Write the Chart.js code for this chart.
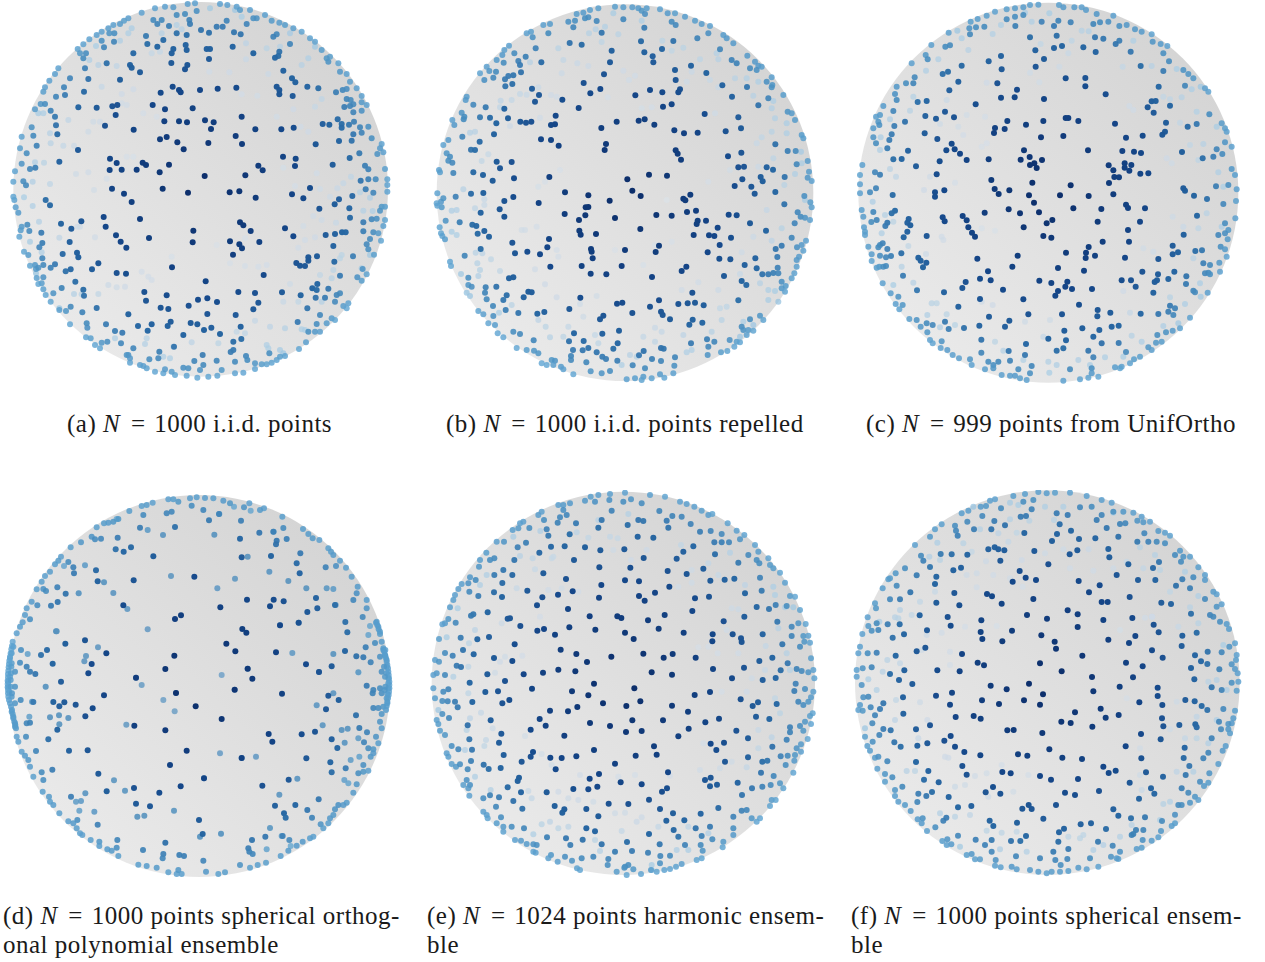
<!DOCTYPE html>
<html>
<head>
<meta charset="utf-8">
<title>Point sets on the sphere</title>
<script src="https://cdn.jsdelivr.net/npm/chart.js@4"></script>
<style>
  html, body { margin: 0; background: #fff; }
  #page { position: relative; width: 1265px; height: 962px; overflow: hidden; }
  canvas { position: absolute; }
  .cap { position: absolute; font: 25px "Liberation Serif", serif; letter-spacing: 0.5px; color: #1a1a1a; white-space: nowrap; line-height: 29px; }
  .cap i { margin-right: 2px; }
  .cap b { font-weight: normal; margin: 0 2px; }
</style>
</head>
<body>
<div id="page">
  <canvas id="a" width="400" height="390" style="left:0;top:0"></canvas>
  <canvas id="b" width="400" height="390" style="left:425px;top:0"></canvas>
  <canvas id="c" width="400" height="390" style="left:850px;top:0"></canvas>
  <canvas id="d" width="400" height="390" style="left:0;top:490px"></canvas>
  <canvas id="e" width="400" height="390" style="left:425px;top:490px"></canvas>
  <canvas id="f" width="400" height="390" style="left:850px;top:490px"></canvas>
  <div class="cap" style="left:67px;top:409px">(a) <i>N</i> <b>=</b> 1000 i.i.d. points</div>
  <div class="cap" style="left:446px;top:409px">(b) <i>N</i> <b>=</b> 1000 i.i.d. points repelled</div>
  <div class="cap" style="left:866px;top:409px">(c) <i>N</i> <b>=</b> 999 points from UnifOrtho</div>
  <div class="cap" style="left:3px;top:901px">(d) <i>N</i> <b>=</b> 1000 points spherical orthog-</div>
  <div class="cap" style="left:3px;top:930px">onal polynomial ensemble</div>
  <div class="cap" style="left:427px;top:901px">(e) <i>N</i> <b>=</b> 1024 points harmonic ensem-</div>
  <div class="cap" style="left:427px;top:930px">ble</div>
  <div class="cap" style="left:851px;top:901px">(f) <i>N</i> <b>=</b> 1000 points spherical ensem-</div>
  <div class="cap" style="left:851px;top:930px">ble</div>
</div>
<script>
// points, x/y in units of 1/3 px inside each 400x390 panel
const aDisc = [602, 568, 562];
const bDisc = [600, 578, 565];
const cDisc = [595, 578, 570];
const dDisc = [597, 588, 573];
const eDisc = [595, 580, 575];
const fDisc = [592, 578, 577];

const aFront = [[465,25],[495,20],[520,22],[563,12],[585,10],[660,12],[682,15],[710,20],[720,30],[750,30],[795,45],[770,55],[590,33],[555,42],[530,45],[425,38],[385,55],[372,62],[360,72],[340,75],[325,85],[305,95],[290,105],[460,60],[485,60],[472,72],[507,78],[568,60],[570,72],[650,80],[680,62],[668,80],[740,72],[760,55],[815,62],[838,68],[855,75],[880,85],[905,95],[930,115],[945,125],
[603,90],[627,98],[702,97],[722,103],[830,103],[820,110],[530,100],[560,105],[490,120],[438,108],[343,100],[328,100],[305,122],[342,125],[268,118],[250,133],[233,147],[240,160],[250,175],[258,160],[312,142],[442,132],[472,140],[520,147],[515,160],[557,135],[560,150],[620,147],[630,147],[698,140],[870,132],[838,155],[835,168],[825,173],[760,160],[627,177],[400,160],[514,189],[562,195],[555,208],[320,190],[390,195],[395,203],[255,205],[420,217],[850,212],[985,185],[965,150],[990,170],[1015,190],[1020,215],[1040,222],[1050,245],[1070,265],[1085,288],[1100,315],[980,175],
[175,205],[165,222],[210,235],[148,242],[265,237],[360,239],[135,262],[192,262],[252,275],[195,285],[168,290],[130,275],[876,235],[886,247],[830,260],[838,270],[838,283],[878,288],[922,260],[955,265],[1008,277],[1028,270],[1040,267],[518,260],[537,270],[542,277],[482,278],[600,270],[653,266],[709,263],
[122,312],[105,328],[135,312],[235,322],[290,323],[337,319],[352,315],[458,315],[495,328],[578,325],[152,332],[165,350],[347,345],[725,350],[1040,297],[1052,300],[1060,313],[1033,321],[1050,318],[1060,337],[1085,307],[1085,332],[1013,358],[968,372],[988,374],[1025,372],[1047,374],[1025,383],[1062,365],[1080,382],[1105,380],[1085,398],[493,364],[537,364],[561,367],[615,361],[641,367],[633,387],[766,388],[844,388],[881,383],[315,377],[401,389],[168,376],[95,382],[172,403],[100,407],[65,410],[1060,403],[1115,415],[1017,423],[1055,422],[1145,432],[500,411],[480,418],[532,427],[551,448],[625,429],[707,408],[726,432],[947,433],[110,437],[60,445],[234,450],[80,460],[1132,462],[1150,457],[1140,445],[1078,460],[1049,474],[849,470],[887,476],[330,476],[350,489],[329,510],[365,509],[410,509],[428,488],[438,495],[507,494],[479,517],[178,485],[65,491],[90,507],[106,503],[45,514],[885,498],[998,494],[1095,497],[1105,508],[775,497],[788,511],[736,526],[614,528],[1155,507],[70,544],[78,556],[40,545],[1082,542],[1105,538],[1127,538],[1162,538],[1162,555],[1162,575],[930,564],[1097,568],[1120,578],[336,566],[372,581],[395,606],[488,566],[564,578],[689,577],[718,574],[767,593],[876,583],[910,595],[1057,588],[1017,598],[1004,613],[958,626],[1048,625],[1145,620],[1155,620],[1140,632],[43,600],[40,590],[137,600],[150,616],[47,622],[55,638],[311,651],[420,657],[1050,653],[1115,658],[1130,656],[1090,667],[1155,660],[183,671],[244,664],[82,674],[214,686],[317,680],[720,667],[730,676],[752,693],[855,685],[880,709],[65,680],[62,691],[88,693],[124,698],[58,710],[348,706],[447,714],[580,692],[578,727],[1026,697],[1037,697],[1090,694],[1120,697],[1135,700],[1150,678],[977,705],[1005,702],[690,724],[718,733],[726,745],[778,726],[1110,717],[1143,722],[1100,733],[1105,748],[209,726],[127,729],[118,742],[362,725],[379,743],[1000,738],[231,758],[235,772],[188,762],[72,755],[85,765],[127,775],[699,764],[925,772],[925,782],[951,769],[889,789],[900,797],[915,798],[1059,769],[1122,764],[1003,785],[295,790],[165,793],[152,803],[105,795],[90,797],[130,795],[108,807],[115,803],[212,808],[197,814],[276,808],[516,802],[350,819],[378,821],[791,825],[1020,827],[1100,823],[1088,807],[1072,832],[1085,842],[130,832],[110,834],[125,850],[115,852],[130,868],[137,885],[226,845],[617,844],[952,852],[937,865],[985,866],[185,864],[250,869],[252,887],[433,876],[500,886],[715,876],[765,879],[846,877],[950,870],[902,886],[947,893],[975,893],[1010,885],[1020,880],[160,880],[152,905],[438,902],[594,899],[622,895],[651,906],[775,908],[1005,905],[1045,910],[1030,918],[1040,925],[212,920],[290,924],[482,923],[505,927],[566,917],[760,928],[922,925],[178,930],[198,933],[247,937],[385,943],[622,942],[707,945],[960,945],[995,955],[1005,960],[980,970],[950,972],[512,965],[572,969],[592,973],[260,970],[318,973],[414,978],[455,973],[503,978],[722,980],[893,966],[210,973],[262,983],[945,995],[960,995],[925,995],[612,990],[634,983],[345,993],[367,998],[443,992],[550,1005],[660,1002],[724,1017],[700,1025],[918,1027],[272,1015],[258,1012],[305,1028],[322,1025],[363,1030],[285,1035],[300,1045],[522,1040],[400,1045],[478,1055],[700,1050],[692,1056],[808,1060],[897,1047],[855,1068],[840,1070],[830,1080],[815,1088],[800,1093],[785,1093],[765,1090],[738,1068],[608,1065],[385,1065],[380,1065],[390,1075],[448,1078],[475,1075],[583,1083],[650,1082],[705,1085],[742,1080],[765,1107],[730,1118],[705,1120],[652,1127],[625,1130],[592,1133],[560,1127],[525,1125],[490,1120],[465,1115],[430,1098],[440,1105],[550,1103],[565,1105],[515,1115],[600,1110],[610,1095],[665,1110],[390,1088],[420,1095],[495,1108]];
const aBack = [[630,25],[705,30],[725,50],[530,75],[545,88],[485,100],[395,85],[385,100],[360,122],[288,138],[480,155],[455,160],[738,130],[738,178],[800,145],[840,140],[870,100],[925,175],[945,140],[268,180],[295,195],[350,198],[628,215],[688,217],[805,222],[905,195],[965,297],[945,320],[880,328],[830,350],[772,287],[725,283],[400,268],[365,282],[305,260],[280,365],[300,365],[205,360],[150,400],[130,340],[115,340],[265,395],[430,340],[365,310],[380,315],[190,437],[222,437],[152,430],[132,488],[105,487],[228,522],[265,517],[150,552],[98,545],[72,592],[98,618],[282,570],[320,536],[400,470],[380,470],[470,350],[925,395],[902,380],[850,503],[950,520],[1012,565],[1053,530],[1030,550],[1110,593],[1080,577],[990,590],[960,567],[885,558],[1090,632],[1118,633],[940,648],[965,660],[1008,668],[910,678],[915,720],[945,712],[895,743],[1025,765],[1020,775],[1000,810],[995,835],[960,825],[735,798],[775,800],[800,795],[1110,765],[1085,805],[870,852],[850,905],[895,905],[965,905],[905,988],[915,990],[840,1050],[850,1060],[800,1035],[805,1045],[855,985],[810,980],[765,962],[735,1000],[710,995],[655,1030],[575,1027],[520,1040],[435,1032],[345,1015],[490,1070],[510,1075],[440,1015],[375,860],[325,855],[350,862],[295,882],[222,882],[245,883],[178,925],[178,713],[285,712],[240,680],[232,680],[117,665],[125,757],[90,725],[108,820],[425,815],[445,830],[455,840],[515,770],[735,715],[690,790],[650,735]];

const bFront = [[570,20],[595,22],[622,22],[640,25],[665,25],[520,25],[495,30],[475,38],[455,42],[705,28],[728,40],[750,40],[780,50],[810,62],[830,72],[855,78],[650,32],[660,42],[595,58],[490,52],[480,55],[450,62],[430,65],[515,63],[375,72],[355,75],[318,95],[305,100],[323,112],[370,100],[445,82],[530,98],[658,83],[740,65],[752,75],[850,100],[895,105],[905,115],[885,148],[925,130],[817,115],[648,124],[745,123],[434,129],[470,134],[332,145],[252,137],[238,150],[268,160],[232,165],[302,170],[215,180],[185,200],[280,183],[285,195],[236,188],[349,187],[560,152],[658,157],[683,169],[711,147],[685,187],[555,187],[798,197],[750,210],[844,219],[920,180],[935,190],[967,167],[990,185],[1000,197],[975,205],[995,210],[1010,200],[1040,232],[1025,245],[1042,255],[1075,285],[1030,295],[1040,262],[193,213],[213,215],[165,220],[178,240],[205,233],[240,238],[250,228],[265,226],[288,217],[262,252],[241,259],[537,223],[752,240],[892,256],[966,261],[476,249],[321,266],[496,280],[526,267],[675,270],[712,277],[765,268],[760,277],[631,286],[342,285],[330,305],[412,299],[921,290],[1000,316],[125,290],[122,300],[145,314],[182,322],[238,326],[461,324],[714,320],[740,313],[110,338],[118,350],[116,358],[88,375],[82,360],[165,352],[195,353],[214,370],[249,355],[286,365],[303,368],[319,365],[392,347],[378,375],[390,373],[575,365],[641,362],[659,358],[688,374],[839,342],[940,352],[1088,335],[1100,340],[1110,360],[529,384],[748,391],[777,400],[818,398],[902,394],[948,385],[207,403],[112,410],[348,418],[378,420],[401,437],[164,425],[70,420],[55,435],[138,449],[150,450],[543,432],[539,450],[752,451],[758,461],[768,479],[1051,433],[909,469],[949,458],[1130,405],[1135,415],[1088,453],[1112,453],[65,460],[75,470],[70,482],[82,488],[215,485],[260,486],[1148,483],[1115,493],[225,505],[940,502],[957,500],[1025,502],[1044,509],[42,510],[45,517],[85,519],[145,517],[174,525],[672,524],[726,527],[373,531],[267,535],[203,542],[607,538],[1007,531],[1013,544],[952,538],[979,560],[929,558],[1079,531],[1152,515],[1148,533],[1160,543],[138,581],[175,579],[37,580],[48,605],[55,595],[92,590],[420,577],[622,572],[647,588],[490,586],[796,584],[775,596],[781,601],[1051,576],[989,581],[238,603],[265,591],[341,609],[554,602],[1138,588],[35,610],[50,622],[37,617],[1156,607],[1160,622],[1078,613],[167,638],[224,628],[238,650],[419,642],[482,622],[490,621],[481,646],[694,645],[740,647],[786,636],[813,632],[911,644],[935,646],[1118,637],[1127,650],[1140,653],[1155,660],[1109,670],[462,660],[570,654],[818,662],[815,672],[843,662],[975,670],[62,662],[104,667],[142,674],[154,678],[44,682],[878,683],[1023,692],[463,692],[467,704],[513,702],[646,687],[178,693],[158,701],[48,700],[52,708],[60,718],[192,710],[806,705],[852,706],[868,708],[918,713],[1100,713],[1143,722],[372,717],[262,728],[884,735],[1070,737],[1116,742],[1130,735],[1135,752],[367,742],[167,747],[307,755],[270,760],[345,763],[498,747],[500,755],[600,750],[702,737],[692,756],[848,757],[1052,747],[1057,771],[1122,770],[119,767],[503,775],[883,776],[916,778],[991,775],[1115,780],[75,785],[78,798],[376,800],[470,798],[590,798],[784,800],[770,813],[959,795],[995,805],[1058,803],[1115,800],[497,821],[544,823],[681,831],[897,828],[1012,823],[1030,823],[1045,819],[1060,820],[1108,820],[1100,835],[252,835],[265,832],[130,833],[130,855],[140,860],[182,862],[214,860],[950,843],[964,855],[1070,845],[1082,858],[1070,865],[1080,875],[180,878],[310,875],[320,877],[802,878],[245,886],[296,892],[466,893],[235,900],[185,898],[702,901],[940,901],[576,911],[592,908],[760,912],[788,910],[810,908],[836,916],[204,918],[675,920],[433,927],[242,930],[622,939],[708,935],[713,945],[337,941],[358,936],[280,939],[160,933],[175,943],[205,948],[525,958],[535,947],[735,958],[803,959],[793,974],[832,968],[1005,947],[975,958],[190,970],[210,975],[218,1000],[235,1012],[950,980],[955,990],[970,990],[965,1005],[985,992],[1015,960],[265,995],[285,1002],[447,1000],[532,1001],[582,992],[432,1024],[326,1021],[476,1023],[578,1030],[798,1030],[846,1018],[868,1025],[914,1020],[935,1025],[945,1027],[275,1044],[305,1050],[327,1052],[340,1060],[444,1050],[473,1051],[490,1044],[565,1046],[515,1057],[708,1044],[716,1046],[850,1040],[888,1057],[907,1053],[928,1040],[532,1070],[543,1077],[577,1082],[438,1068],[438,1080],[380,1080],[390,1082],[350,1090],[365,1095],[385,1095],[408,1100],[415,1108],[484,1087],[642,1066],[656,1053],[681,1077],[708,1083],[750,1072],[848,1065],[623,1096],[660,1105],[748,1097],[745,1120],[718,1133],[705,1123],[680,1135],[655,1130],[650,1140],[630,1135],[605,1138],[555,1113],[497,1114],[530,1120],[445,1123]];
const bBack = [[565,40],[650,62],[540,80],[512,88],[492,100],[580,103],[712,122],[530,126],[740,152],[775,143],[825,178],[875,160],[880,178],[400,145],[415,180],[457,190],[490,198],[315,187],[410,220],[595,212],[630,227],[612,240],[800,215],[855,240],[880,262],[785,245],[930,235],[965,235],[1000,245],[985,287],[1045,303],[1040,325],[1050,355],[1085,370],[1085,400],[1040,395],[1010,412],[995,430],[285,282],[305,284],[378,285],[395,290],[340,262],[548,292],[260,300],[227,302],[225,322],[650,325],[680,322],[870,340],[345,353],[255,378],[150,395],[135,398],[152,758],[172,760],[198,778],[157,790],[108,822],[160,828],[225,813],[330,808],[395,750],[400,770],[570,750],[690,735],[740,725],[655,795],[725,600],[850,545],[915,510],[1000,500],[1045,475],[1128,455],[1130,490],[1110,522],[1078,555],[1140,600],[1025,630],[1070,685],[1040,722],[985,710],[950,757],[945,822],[1005,850],[1030,870],[1050,873],[1060,905],[1030,900],[880,870],[820,847],[770,870],[885,925],[905,920],[890,960],[955,965],[985,975],[945,1010],[860,995],[775,1005],[710,995],[690,983],[690,1025],[785,1057],[800,1050],[655,1010],[615,1065],[635,1070],[590,1095],[520,1030],[510,1005],[415,1010],[375,1012],[340,960],[362,980],[430,980],[475,950],[395,892],[515,888],[465,912],[360,853],[260,915],[222,938],[165,810],[125,878],[135,888],[95,705],[80,695],[290,690],[300,690],[335,680],[340,560],[360,545],[405,510],[190,463],[170,483],[115,568],[178,598],[150,625],[178,615],[80,632],[95,630]];

const cFront = [[565,14],[540,15],[520,22],[495,25],[470,28],[435,35],[410,47],[383,57],[362,65],[627,15],[640,22],[673,22],[695,22],[708,30],[740,42],[790,47],[495,50],[470,58],[520,45],[575,65],[625,62],[662,67],[612,78],[730,72],[750,67],[775,65],[808,78],[830,75],[855,88],[875,95],[905,103],[378,82],[403,80],[358,85],[496,78],[360,103],[296,98],[620,107],[540,112],[735,112],[760,116],[808,122],[797,132],[908,125],[932,132],[952,138],[286,140],[300,136],[244,135],[612,144],[636,138],[556,151],[700,142],[737,156],[842,155],[940,160],[227,165],[233,178],[453,168],[582,177],[416,184],[185,190],[957,184],[335,197],[455,208],[557,200],[872,198],[1000,210],[194,232],[294,215],[278,222],[325,245],[442,250],[647,235],[706,234],[940,213],[1015,222],[1030,235],[168,250],[190,250],[140,260],[706,259],[1005,257],[926,260],[298,271],[501,269],[135,282],[140,300],[767,283],[1065,265],[1075,275],[453,293],[494,292],[582,297],[230,303],[203,306],[377,313],[905,304],[917,303],[893,322],[911,338],[960,317],[100,318],[285,335],[130,333],[226,348],[258,356],[312,352],[90,345],[78,350],[85,365],[88,375],[133,378],[165,365],[647,354],[655,354],[472,363],[580,363],[685,363],[1078,343],[1115,370],[1125,385],[528,374],[795,371],[948,368],[1013,380],[1040,372],[1130,395],[435,384],[432,399],[464,387],[224,400],[70,385],[125,403],[118,420],[262,417],[573,412],[640,408],[828,413],[878,407],[945,395],[937,404],[70,412],[78,430],[112,445],[305,431],[314,448],[289,451],[330,461],[522,451],[714,451],[817,453],[852,455],[873,459],[996,456],[1125,427],[1145,440],[1100,448],[174,452],[350,480],[416,478],[512,479],[539,471],[576,480],[155,477],[130,478],[1058,475],[1090,470],[1117,462],[269,484],[553,490],[540,495],[776,496],[824,490],[844,495],[824,503],[560,504],[198,499],[37,495],[790,511],[838,512],[871,521],[895,520],[1145,507],[1155,525],[260,523],[75,517],[90,524],[793,531],[807,532],[424,540],[777,549],[547,548],[662,556],[30,525],[30,553],[1000,565],[1005,572],[1098,559],[1135,555],[434,567],[478,571],[283,571],[446,582],[60,577],[78,565],[128,585],[255,577],[255,590],[537,586],[630,586],[716,588],[790,583],[1032,587],[1160,568],[1071,597],[30,580],[1158,603],[552,608],[828,614],[834,624],[476,628],[670,625],[754,627],[885,625],[1120,612],[35,630],[70,636],[135,632],[125,640],[40,650],[404,638],[510,640],[567,637],[278,652],[338,648],[1041,647],[176,657],[284,664],[350,661],[607,660],[743,665],[870,665],[590,670],[64,666],[80,660],[172,668],[112,668],[106,678],[181,676],[355,682],[521,682],[1156,655],[1125,670],[1135,690],[834,690],[42,682],[45,695],[172,695],[161,712],[366,698],[375,710],[230,708],[580,708],[604,713],[1001,704],[1105,705],[1125,700],[1133,718],[45,705],[758,725],[837,725],[90,735],[85,742],[98,730],[55,740],[716,741],[968,737],[1112,740],[1125,748],[648,758],[708,758],[984,757],[1036,753],[1056,751],[112,747],[154,760],[65,763],[90,767],[123,768],[108,772],[968,763],[1130,770],[503,767],[735,767],[707,774],[825,773],[382,776],[205,773],[212,782],[229,788],[925,777],[65,783],[88,800],[100,800],[108,798],[80,803],[1060,790],[1080,795],[1108,788],[487,800],[624,804],[702,812],[219,802],[414,814],[877,815],[973,815],[1075,818],[1065,820],[1080,823],[1110,815],[159,827],[924,823],[1009,829],[390,836],[422,841],[568,842],[604,849],[652,845],[646,860],[815,841],[843,841],[921,841],[914,846],[955,837],[347,846],[98,850],[1008,852],[337,864],[459,869],[666,867],[726,867],[857,860],[624,873],[616,887],[201,871],[282,877],[910,878],[1030,872],[1035,877],[1073,878],[122,880],[390,897],[520,898],[145,890],[137,912],[158,915],[148,928],[325,920],[687,914],[743,930],[742,949],[781,938],[535,943],[636,943],[872,941],[925,942],[960,917],[975,925],[955,935],[970,945],[1020,953],[178,957],[200,960],[417,950],[212,980],[230,970],[285,965],[248,975],[478,962],[296,987],[342,984],[388,977],[465,980],[785,980],[806,977],[697,985],[748,990],[643,992],[922,1005],[948,997],[968,992],[990,985],[232,997],[240,1020],[394,1019],[595,1016],[648,1021],[730,1010],[275,1024],[248,1030],[528,1032],[755,1030],[806,1029],[918,1028],[935,1025],[272,1044],[292,1050],[308,1065],[327,1075],[394,1058],[476,1053],[525,1065],[620,1052],[640,1045],[715,1052],[828,1056],[895,1042],[905,1050],[360,1078],[365,1095],[415,1085],[430,1095],[445,1085],[480,1082],[730,1072],[852,1078],[870,1070],[840,1090],[815,1100],[795,1102],[405,1108],[430,1105],[505,1108],[545,1098],[660,1108],[725,1105],[725,1120],[455,1125],[480,1127],[495,1127],[510,1135],[530,1140],[540,1120],[640,1142],[690,1138],[715,1133],[745,1130],[810,1105]];
const cBack = [[598,40],[525,38],[545,65],[453,75],[428,102],[335,115],[355,150],[322,92],[572,132],[655,160],[665,122],[695,92],[716,94],[850,122],[818,200],[905,198],[980,207],[1025,268],[1052,260],[995,292],[960,298],[1040,335],[1100,380],[1060,432],[1020,435],[990,368],[950,475],[965,490],[1045,480],[1105,517],[1120,560],[850,330],[838,318],[940,290],[628,200],[540,218],[410,248],[568,247],[265,178],[228,212],[190,290],[290,300],[120,358],[180,332],[350,345],[270,372],[325,380],[405,350],[410,430],[395,440],[340,405],[92,412],[90,450],[120,507],[138,530],[240,530],[315,548],[222,570],[68,605],[105,645],[130,665],[95,700],[275,710],[280,720],[395,685],[435,692],[175,738],[228,762],[155,800],[130,855],[190,848],[245,910],[260,910],[290,943],[232,945],[315,975],[270,982],[395,905],[428,915],[525,965],[600,960],[580,1010],[435,1025],[460,1052],[520,1080],[595,1085],[620,1095],[598,1118],[685,1080],[720,1095],[765,1072],[820,1070],[875,1025],[845,1007],[940,978],[985,970],[960,892],[1005,912],[1052,890],[1050,850],[1030,775],[1000,680],[968,650],[1070,640],[1045,685],[1115,680],[880,745],[910,755],[820,873],[840,938]];

const dFront = [[505,28],[520,28],[535,35],[570,25],[590,22],[615,24],[640,25],[670,32],[690,40],[425,48],[440,45],[458,38],[575,47],[610,60],[732,52],[748,40],[792,55],[780,60],[847,80],[430,75],[500,70],[515,65],[388,63],[657,72],[627,91],[723,92],[355,87],[340,95],[325,98],[312,100],[290,112],[420,113],[525,111],[850,114],[909,117],[778,128],[820,125],[275,140],[285,148],[303,146],[353,143],[720,146],[860,147],[925,132],[938,145],[958,150],[830,152],[828,163],[243,157],[371,185],[393,172],[347,178],[985,175],[993,185],[1000,195],[212,172],[460,199],[813,198],[725,202],[901,190],[183,200],[165,223],[175,212],[205,216],[220,232],[1020,212],[1008,228],[977,232],[890,220],[288,241],[150,245],[135,258],[222,250],[899,250],[1038,233],[1055,260],[125,275],[401,271],[293,274],[583,260],[110,298],[130,297],[138,303],[172,292],[1073,290],[1070,310],[1100,330],[1060,330],[197,311],[95,335],[112,346],[153,347],[173,336],[741,329],[821,329],[851,334],[948,324],[810,349],[952,355],[922,366],[370,346],[661,352],[80,355],[75,375],[1005,345],[1100,355],[1088,381],[543,376],[90,388],[68,397],[60,410],[1130,395],[1135,410],[1140,425],[1036,396],[896,398],[840,406],[525,387],[727,417],[739,428],[1042,427],[50,430],[40,470],[35,490],[196,461],[255,451],[679,461],[1097,472],[1125,459],[1145,455],[141,480],[63,480],[706,484],[828,487],[1035,483],[1150,480],[1155,495],[123,495],[319,490],[523,497],[1069,499],[1090,502],[1112,517],[1140,500],[30,505],[35,520],[60,518],[158,521],[275,522],[918,523],[995,529],[1160,510],[1160,530],[80,530],[496,537],[743,536],[90,545],[106,552],[265,550],[45,545],[30,560],[957,546],[1145,545],[1160,550],[757,566],[1165,565],[1165,580],[183,575],[408,563],[1100,587],[25,575],[25,590],[28,605],[45,590],[1140,595],[1120,600],[1165,595],[312,616],[846,611],[704,599],[528,609],[985,617],[1118,610],[1145,610],[1162,612],[1160,625],[35,620],[62,630],[100,636],[160,636],[193,637],[1016,630],[178,649],[227,644],[278,655],[587,649],[1120,654],[1135,654],[1162,640],[1150,650],[45,640],[35,665],[40,680],[978,658],[665,687],[256,679],[1068,676],[1145,672],[45,700],[80,700],[90,698],[403,707],[45,710],[172,719],[496,721],[1140,695],[1145,715],[806,732],[905,733],[945,725],[1078,714],[1101,727],[1128,740],[50,740],[55,755],[78,740],[145,748],[817,755],[995,748],[1092,757],[207,782],[263,781],[560,782],[1012,774],[1105,775],[1120,778],[1135,760],[65,785],[75,797],[108,783],[725,804],[919,805],[1112,800],[1120,790],[991,817],[85,810],[90,830],[1090,825],[1037,835],[510,825],[125,847],[157,839],[295,851],[995,847],[1090,845],[1105,842],[100,860],[612,865],[866,869],[1075,850],[130,870],[402,894],[542,889],[787,887],[1070,883],[128,905],[320,904],[478,908],[1060,908],[147,920],[213,920],[956,928],[1040,938],[1030,945],[150,935],[160,945],[408,941],[450,949],[886,945],[825,947],[178,970],[922,960],[1005,958],[1015,945],[852,970],[857,983],[936,983],[990,985],[1000,975],[597,990],[205,994],[232,990],[220,1000],[293,1004],[962,1003],[970,1015],[985,1000],[230,1015],[240,1030],[247,1035],[608,1032],[796,1040],[848,1038],[930,1045],[940,1040],[272,1050],[298,1055],[352,1050],[496,1058],[756,1050],[868,1050],[908,1055],[890,1067],[298,1068],[322,1078],[335,1082],[350,1073],[429,1080],[745,1075],[748,1085],[758,1092],[490,1092],[355,1098],[488,1105],[538,1095],[552,1098],[865,1082],[842,1098],[415,1124],[440,1128],[470,1133],[610,1112],[720,1125],[750,1133],[773,1125],[798,1118],[505,1147],[530,1152],[545,1152],[618,1145],[655,1152],[675,1147],[535,1140]];
// the two thick bands on the left and right rim of panel d
const dBands = [[38,455],[36,468],[34,478],[32,490],[30,500],[28,512],[27,522],[26,532],[25,542],[24,552],[24,562],[23,572],[23,582],[23,592],[24,600],[24,610],[25,620],[27,630],[30,640],[33,650],[36,660],[38,672],[40,685],[43,695],[46,705],[48,715],[34,530],[33,550],[32,570],[32,590],[36,610],[1128,398],[1132,405],[1136,418],[1140,432],[1150,475],[1153,485],[1156,497],[1158,505],[1160,515],[1162,525],[1164,535],[1165,545],[1166,555],[1167,565],[1168,575],[1168,585],[1168,595],[1167,605],[1166,615],[1164,625],[1162,635],[1160,648],[1158,660],[1156,480],[1152,530],[1155,560],[1156,590],[1154,600]];
const dMid = [[382,357],[408,563],[425,585],[528,609],[524,664],[704,599],[743,536],[957,546],[379,704],[725,804],[840,406],[896,398],[168,424],[294,472],[253,514],[258,498],[137,590],[150,682],[177,676],[205,684],[178,703],[660,790],[612,865],[342,871],[375,902],[256,910],[228,935],[243,933],[238,962],[283,965],[412,980],[433,977],[522,962],[600,1040],[663,1031],[810,1014],[845,1038],[872,1068],[800,1078],[768,800],[892,866],[838,914],[1033,870],[1045,880],[1025,720],[1043,716],[968,706],[1034,758],[1078,800],[1052,810],[1075,745],[1000,492],[877,489],[950,646],[665,555],[513,258],[705,266],[865,273],[919,295],[980,295],[1000,297],[1007,345],[1110,408],[1105,435],[1075,547],[1000,610],[340,309],[312,277],[236,310],[652,295],[489,135],[643,134],[821,125],[743,200],[808,245],[490,630],[443,418],[170,424],[83,492],[96,635],[88,680],[443,120],[658,72],[702,50],[752,62],[350,87],[255,226],[192,228]];
const dBack = [[236,310],[340,309],[313,277],[809,246],[652,295],[378,703],[968,706],[442,418],[877,490],[1000,492],[1076,548],[1000,610],[950,646],[665,555],[490,630],[663,790],[765,798],[892,866],[375,902],[522,962],[412,980],[663,1031],[600,1040],[258,498],[205,684],[137,590]];

const eFront = [[600,8],[555,12],[497,20],[520,15],[675,15],[720,20],[480,32],[510,35],[435,40],[415,45],[400,45],[553,30],[595,35],[618,28],[650,40],[765,35],[785,42],[808,50],[830,62],[850,75],[862,72],[415,60],[425,75],[560,62],[703,63],[770,80],[742,78],[350,65],[340,75],[405,82],[357,90],[530,90],[640,90],[655,93],[725,92],[295,95],[285,100],[398,98],[453,100],[608,105],[797,102],[857,123],[263,120],[280,115],[313,114],[520,113],[730,113],[365,118],[908,100],[825,125],[890,132],[935,122],[370,137],[434,133],[638,140],[685,143],[958,135],[945,148],[215,155],[237,155],[303,158],[868,157],[890,157],[912,157],[990,165],[278,172],[378,170],[419,169],[480,172],[598,178],[805,169],[184,188],[526,181],[775,185],[343,188],[870,193],[1000,185],[208,205],[195,210],[165,210],[447,210],[268,210],[656,204],[755,206],[970,195],[995,210],[1003,220],[1030,205],[1035,225],[940,218],[162,230],[523,232],[616,233],[835,236],[235,240],[1045,235],[728,243],[355,250],[208,255],[262,255],[785,252],[1065,248],[135,262],[1005,263],[423,267],[600,271],[642,274],[152,270],[232,279],[856,272],[899,269],[928,266],[130,280],[529,285],[1080,278],[733,290],[110,282],[100,297],[133,305],[307,302],[207,307],[443,304],[1010,302],[960,310],[690,308],[90,315],[160,318],[231,321],[352,322],[399,314],[522,323],[642,318],[659,332],[810,325],[852,320],[1095,318],[1110,320],[85,330],[75,352],[336,346],[1052,345],[995,351],[1032,357],[1085,348],[1125,360],[429,357],[802,363],[188,367],[145,373],[138,377],[70,387],[719,375],[494,379],[577,379],[589,384],[669,391],[958,380],[248,386],[255,385],[896,394],[1057,395],[60,400],[92,398],[52,403],[286,408],[1100,410],[1142,402],[1120,400],[433,412],[357,417],[337,422],[511,419],[701,416],[600,428],[776,428],[863,433],[923,433],[1013,433],[1100,438],[1135,438],[1150,437],[390,434],[107,443],[192,441],[157,448],[42,447],[948,445],[950,456],[862,454],[626,447],[1138,455],[1155,458],[269,463],[1072,463],[114,480],[407,479],[1125,470],[454,492],[146,493],[60,489],[655,491],[743,492],[559,500],[716,503],[812,503],[83,497],[207,504],[262,513],[486,516],[1042,503],[1003,513],[1158,505],[1088,520],[30,510],[42,515],[95,527],[108,531],[957,533],[864,537],[1067,541],[1115,537],[1130,543],[1150,547],[1165,540],[354,548],[400,539],[451,544],[296,553],[187,553],[680,547],[741,554],[35,550],[25,555],[60,555],[921,565],[1013,570],[1052,564],[1168,565],[240,573],[134,578],[507,581],[1112,581],[25,595],[70,598],[321,596],[628,595],[1140,597],[55,605],[181,606],[219,604],[441,604],[490,616],[809,615],[855,606],[1108,603],[1165,605],[30,625],[52,633],[68,634],[253,630],[232,640],[142,636],[90,635],[1158,622],[947,628],[999,637],[983,648],[98,652],[534,640],[646,634],[1055,642],[1120,635],[1135,645],[1150,635],[457,651],[604,648],[741,647],[375,662],[429,664],[789,665],[1163,670],[1155,678],[52,672],[72,684],[344,687],[882,686],[993,680],[1033,687],[622,691],[714,691],[841,697],[197,691],[495,699],[35,690],[40,702],[128,706],[555,708],[1140,695],[1158,702],[362,707],[1095,712],[1125,708],[317,719],[603,726],[650,723],[791,716],[934,722],[45,722],[1095,727],[1135,722],[229,731],[418,737],[760,739],[60,735],[133,748],[969,745],[1148,747],[1085,749],[222,758],[857,761],[897,758],[80,768],[687,769],[1042,770],[1128,763],[100,778],[141,779],[507,780],[324,786],[874,780],[1115,775],[1128,785],[65,790],[70,800],[236,795],[632,797],[695,794],[1110,795],[317,800],[376,803],[410,804],[454,799],[969,802],[1067,799],[1088,797],[290,815],[138,813],[900,815],[1012,815],[1027,812],[1108,812],[80,822],[93,830],[105,823],[176,824],[191,837],[227,834],[128,838],[570,821],[1082,825],[392,838],[729,847],[1008,848],[1105,848],[522,852],[857,863],[1046,858],[282,863],[278,873],[494,866],[840,870],[125,870],[587,877],[650,883],[938,878],[855,889],[876,884],[517,890],[115,885],[135,885],[130,895],[1012,890],[1037,885],[1065,880],[248,892],[445,897],[490,898],[726,895],[981,895],[1075,895],[288,907],[365,907],[711,905],[951,915],[133,917],[195,916],[175,925],[222,922],[265,933],[672,929],[1040,930],[1052,930],[551,941],[610,942],[389,948],[213,950],[880,954],[1035,948],[292,956],[484,957],[705,957],[418,958],[412,968],[175,965],[950,962],[965,960],[185,975],[744,970],[827,971],[520,979],[228,982],[925,980],[980,985],[1005,985],[188,985],[724,992],[778,991],[995,995],[215,1000],[235,1010],[260,1010],[484,1015],[297,1015],[510,1024],[746,1020],[812,1015],[855,1010],[925,1015],[672,1032],[760,1040],[830,1038],[235,1025],[270,1050],[366,1042],[423,1045],[473,1049],[288,1052],[862,1048],[925,1035],[436,1065],[530,1063],[606,1056],[704,1063],[827,1065],[780,1065],[895,1055],[893,1072],[305,1062],[325,1063],[335,1065],[325,1085],[332,1088],[570,1085],[621,1083],[669,1088],[833,1082],[378,1095],[370,1105],[420,1100],[470,1105],[441,1112],[550,1107],[706,1098],[735,1097],[815,1110],[830,1105],[398,1115],[505,1100],[548,1125],[705,1120],[770,1122],[753,1130],[735,1137],[718,1140],[456,1135],[465,1140],[600,1130],[610,1125],[575,1145],[605,1155],[625,1138],[648,1152],[678,1140],[695,1145],[598,1133]];
const eBack = [[610,72],[520,90],[555,140],[578,145],[490,143],[455,127],[346,123],[265,140],[323,205],[285,198],[380,205],[565,180],[618,210],[665,180],[768,165],[915,188],[850,220],[800,240],[760,290],[800,278],[880,255],[960,285],[1045,290],[1050,315],[940,358],[920,355],[1080,352],[1105,352],[1060,415],[1022,468],[905,420],[850,470],[820,472],[878,490],[940,490],[1085,490],[1095,540],[1020,540],[980,565],[965,605],[890,605],[1050,625],[1065,670],[1000,720],[1040,742],[920,815],[965,832],[1000,775],[835,760],[825,840],[885,835],[735,857],[630,855],[580,860],[465,855],[380,825],[350,792],[300,738],[178,768],[183,750],[120,780],[150,860],[197,900],[310,903],[320,925],[400,905],[460,930],[430,925],[505,935],[600,968],[570,970],[650,982],[635,995],[590,1023],[700,1010],[790,1010],[850,1030],[755,1080],[525,1083],[430,1010],[375,995],[350,1003],[400,1015],[325,1033],[510,1050],[680,1125],[680,1140],[790,1080],[40,660],[168,668],[135,685],[203,715],[125,720],[85,560],[130,610],[210,548],[225,515],[292,497],[240,500],[132,460],[130,530],[330,238],[385,200],[275,295],[370,300],[410,295],[460,305],[165,285],[185,255],[98,355],[230,400],[150,420],[65,442],[345,380]];

const fFront = [[565,6],[590,10],[615,8],[660,8],[525,12],[490,18],[435,28],[420,32],[710,18],[755,30],[785,38],[550,30],[520,35],[392,50],[408,48],[355,62],[335,70],[690,52],[725,50],[545,58],[453,55],[820,65],[850,68],[875,80],[900,95],[512,80],[620,70],[397,78],[653,75],[755,75],[790,65],[433,93],[352,95],[275,103],[315,107],[528,78],[740,90],[810,102],[826,100],[862,92],[880,97],[925,123],[945,128],[960,137],[318,122],[372,118],[424,118],[465,106],[629,103],[770,114],[323,137],[255,118],[523,129],[621,132],[663,122],[883,130],[240,140],[805,140],[606,153],[687,147],[736,145],[862,155],[895,155],[920,155],[945,160],[213,197],[195,165],[415,178],[434,172],[445,178],[463,181],[553,183],[682,181],[775,177],[659,193],[272,192],[305,193],[352,194],[220,212],[778,202],[975,195],[990,182],[1000,200],[1020,200],[993,215],[451,212],[595,223],[835,223],[927,216],[165,235],[240,231],[909,234],[333,233],[310,241],[509,243],[1045,232],[137,250],[200,256],[259,260],[527,263],[558,270],[800,255],[120,265],[115,268],[488,275],[686,273],[864,270],[916,270],[997,268],[1030,262],[1065,255],[255,282],[1065,270],[140,287],[749,286],[978,287],[1020,295],[98,295],[181,307],[313,309],[717,307],[1090,305],[411,312],[426,319],[550,327],[839,321],[1100,313],[120,328],[150,328],[259,338],[328,346],[455,341],[755,336],[773,336],[934,338],[963,342],[1065,327],[75,340],[78,355],[653,361],[1115,343],[1100,350],[209,376],[293,381],[531,375],[683,373],[1023,371],[1080,375],[1090,380],[591,386],[760,390],[847,384],[53,382],[394,391],[113,403],[149,403],[80,400],[55,408],[302,407],[683,411],[911,404],[1110,395],[1130,402],[65,422],[85,420],[231,421],[392,426],[486,422],[926,427],[1040,428],[1137,417],[37,432],[128,443],[162,433],[574,436],[856,438],[775,449],[997,437],[397,447],[457,454],[614,455],[837,459],[30,470],[226,473],[618,476],[995,468],[1138,470],[1155,460],[1073,485],[200,484],[906,481],[25,490],[53,490],[80,488],[336,492],[697,497],[1035,496],[1115,487],[1160,495],[137,497],[938,503],[1053,514],[1072,522],[1158,510],[383,518],[402,526],[570,520],[828,518],[878,529],[1145,523],[65,532],[38,535],[20,540],[1023,534],[1108,538],[1155,537],[262,541],[329,544],[163,541],[635,544],[20,560],[120,552],[726,561],[849,562],[1033,568],[1163,550],[147,570],[537,581],[422,587],[187,582],[35,585],[1145,578],[1165,575],[809,590],[923,593],[1085,592],[470,598],[730,604],[1115,600],[1160,602],[306,608],[579,613],[923,618],[40,622],[258,617],[159,622],[396,631],[522,631],[868,637],[1006,630],[1034,634],[55,620],[30,645],[100,640],[447,642],[570,644],[300,644],[937,645],[1055,648],[25,660],[38,662],[62,652],[90,657],[752,656],[1072,660],[1120,657],[1155,662],[160,671],[675,667],[371,678],[317,681],[392,686],[767,683],[806,675],[936,685],[1150,685],[75,676],[634,695],[662,699],[1107,695],[1145,700],[1135,702],[240,706],[67,700],[988,705],[1036,703],[1040,712],[940,709],[727,710],[1113,718],[1135,718],[198,718],[100,717],[122,721],[472,721],[491,720],[577,729],[873,732],[1140,730],[45,740],[88,735],[302,738],[283,752],[133,757],[932,748],[1085,745],[68,755],[232,760],[202,767],[315,770],[152,770],[827,769],[1127,768],[52,768],[60,782],[598,778],[1004,773],[343,786],[391,796],[504,793],[532,797],[637,803],[696,807],[874,805],[1001,804],[1075,788],[1118,782],[75,803],[85,800],[112,814],[198,816],[1060,805],[337,828],[760,830],[1018,828],[1105,822],[82,836],[235,843],[457,846],[482,850],[797,842],[776,849],[888,847],[1078,850],[105,852],[350,854],[570,858],[127,862],[222,869],[603,869],[684,867],[939,860],[1007,855],[1050,875],[266,877],[839,878],[1075,878],[105,875],[157,890],[429,891],[903,895],[995,895],[1062,888],[135,900],[747,903],[407,907],[451,911],[645,908],[675,915],[205,911],[246,906],[229,918],[913,911],[1015,908],[1035,920],[135,918],[296,921],[867,926],[1045,930],[145,935],[202,936],[165,945],[1020,938],[985,945],[995,945],[324,952],[364,948],[517,956],[536,945],[545,957],[618,945],[790,958],[182,963],[975,974],[805,977],[280,992],[289,983],[580,986],[843,985],[885,982],[203,988],[218,985],[419,992],[501,998],[692,1003],[723,1000],[936,993],[215,1000],[256,1012],[430,1008],[975,1000],[965,1008],[642,1016],[768,1017],[858,1020],[880,1020],[231,1023],[627,1027],[933,1023],[850,1032],[528,1038],[845,1035],[324,1037],[277,1053],[292,1048],[304,1063],[290,1065],[377,1049],[425,1050],[483,1053],[511,1053],[625,1055],[744,1055],[878,1050],[905,1052],[925,1042],[405,1065],[655,1077],[788,1067],[860,1077],[875,1073],[425,1085],[610,1085],[810,1085],[365,1092],[350,1095],[375,1108],[390,1108],[498,1099],[783,1100],[805,1107],[800,1105],[437,1110],[570,1105],[652,1107],[616,1110],[720,1105],[435,1127],[452,1132],[485,1130],[500,1138],[685,1133],[710,1138],[745,1130],[540,1140],[565,1145],[590,1150],[605,1145],[632,1125],[630,1145],[655,1143]];
const fBack = [[370,50],[505,45],[480,38],[585,50],[640,50],[790,68],[480,88],[612,90],[538,92],[390,118],[500,128],[445,130],[585,190],[515,210],[408,214],[340,160],[262,158],[238,200],[270,210],[365,185],[475,155],[640,178],[716,178],[830,215],[870,172],[915,195],[930,240],[960,305],[1005,245],[1045,318],[1020,352],[885,383],[907,380],[880,235],[790,235],[730,242],[660,235],[518,290],[380,292],[430,255],[350,255],[380,250],[480,265],[255,305],[210,335],[150,360],[135,382],[185,375],[88,395],[230,435],[275,428],[345,410],[440,408],[300,485],[300,525],[215,480],[145,385],[112,510],[150,520],[98,545],[55,568],[80,600],[138,630],[210,637],[135,690],[45,715],[232,690],[205,745],[285,800],[295,803],[170,843],[195,843],[345,885],[315,890],[490,905],[535,855],[410,850],[375,858],[455,825],[415,920],[270,970],[315,980],[360,975],[410,1022],[455,1028],[500,1025],[530,1085],[450,1078],[330,1070],[700,1035],[690,1045],[655,1040],[730,1080],[760,1065],[845,1005],[810,1040],[930,990],[960,935],[940,942],[875,900],[870,855],[980,845],[1030,845],[1005,745],[1075,760],[1040,745],[1100,690],[1040,680],[980,635],[1075,575],[1100,570],[1130,600],[1120,465],[1045,400],[985,410],[905,380],[960,718],[870,775],[830,625],[810,420]];

const panelSets = {
  a: { disc: aDisc, front: aFront, back: aBack },
  b: { disc: bDisc, front: bFront, back: bBack },
  c: { disc: cDisc, front: cFront, back: cBack },
  d: { disc: dDisc, front: dFront.concat(dBands), mid: dMid, back: dBack },
  e: { disc: eDisc, front: eFront, back: eBack },
  f: { disc: fDisc, front: fFront, back: fBack },
};

const toXY = (pts) => pts.map(([x, y]) => ({ x, y }));

function mix(stops, t) {
  let i = 0;
  while (i < stops.length - 2 && t > stops[i + 1][0]) i++;
  const [t0, c0] = stops[i], [t1, c1] = stops[i + 1];
  const k = Math.min(1, Math.max(0, (t - t0) / (t1 - t0)));
  const c = c0.map((v, j) => v + (c1[j] - v) * k);
  return `rgba(${c[0] | 0},${c[1] | 0},${c[2] | 0},${c[3].toFixed(2)})`;
}

// colour follows how far a point sits from the middle of the disc
const frontStops = [[0, [12, 44, 104, 1]], [0.55, [22, 72, 138, 1]], [0.8, [38, 102, 162, 0.98]], [0.95, [72, 142, 192, 0.88]], [1.02, [100, 170, 215, 0.78]]];
const midStops = [[0, [120, 165, 200, 0.85]], [0.8, [85, 145, 190, 0.9]], [1.02, [110, 175, 215, 0.8]]];
const backStops = [[0, [225, 230, 235, 0.6]], [0.7, [205, 218, 230, 0.7]], [0.95, [170, 205, 228, 0.75]], [1.02, [140, 190, 222, 0.75]]];

const discPlugin = {
  id: 'disc',
  beforeDatasetsDraw(chart, args, opts) {
    const { x, y } = chart.scales;
    const cx = x.getPixelForValue(opts.disc[0]);
    const cy = y.getPixelForValue(opts.disc[1]);
    const r = x.getPixelForValue(opts.disc[0] + opts.disc[2]) - cx;
    const g = chart.ctx.createLinearGradient(cx - r * 0.7, cy + r * 0.7, cx + r * 0.7, cy - r * 0.7);
    g.addColorStop(0, '#e9e9e9');
    g.addColorStop(1, '#d5d5d5');
    chart.ctx.save();
    chart.ctx.fillStyle = g;
    chart.ctx.beginPath();
    chart.ctx.arc(cx, cy, r, 0, Math.PI * 2);
    chart.ctx.fill();
    chart.ctx.restore();
  },
};

function drawPanel(id) {
  const set = panelSets[id];
  const colour = (stops) => (ctx) => {
    const p = ctx.raw || { x: set.disc[0], y: set.disc[1] };
    return mix(stops, Math.hypot(p.x - set.disc[0], p.y - set.disc[1]) / set.disc[2]);
  };
  const layer = (pts, stops) => ({
    data: toXY(pts),
    pointRadius: 3,
    pointBorderWidth: 0,
    pointBackgroundColor: colour(stops),
    clip: false,
  });
  const datasets = [layer(set.front, frontStops)];
  if (set.mid) datasets.push(layer(set.mid, midStops));
  datasets.push(layer(set.back, backStops));

  new Chart(document.getElementById(id), {
    type: 'scatter',
    data: { datasets },
    options: {
      responsive: false,
      animation: false,
      events: [],
      layout: { padding: 0, autoPadding: false },
      scales: {
        x: { type: 'linear', display: false, min: 0, max: 1200 },
        y: { type: 'linear', display: false, min: 0, max: 1170, reverse: true },
      },
      plugins: { legend: { display: false }, tooltip: { enabled: false }, disc: { disc: set.disc } },
    },
    plugins: [discPlugin],
  });
}

['a', 'b', 'c', 'd', 'e', 'f'].forEach(drawPanel);
</script>
</body>
</html>
